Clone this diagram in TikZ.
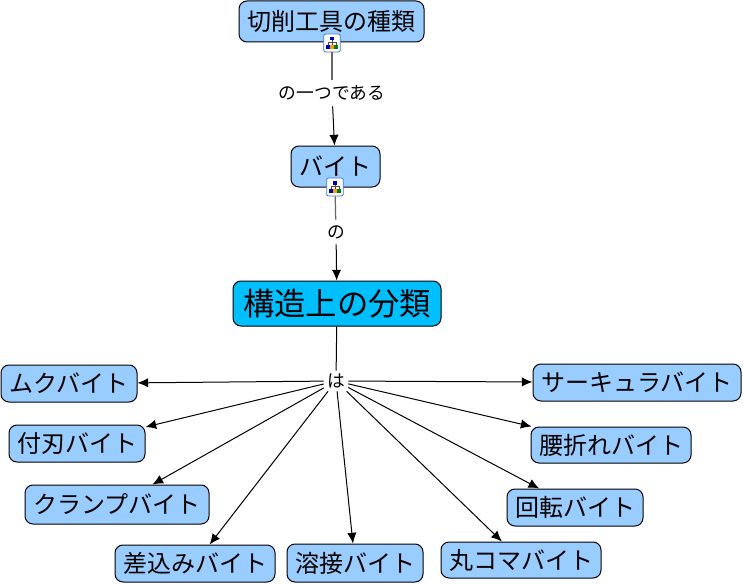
\documentclass[tikz,border=0pt]{standalone}
\usepackage{fontspec}
\setmainfont{Noto Sans CJK JP}
\usetikzlibrary{arrows.meta}
\tikzset{
  concept/.style={draw=black,line width=0.75pt,rounded corners=6pt,fill=conceptblue,inner sep=0pt,font=\fontsize{18}{18}\selectfont,text=black},
  rootconcept/.style={concept,fill=rootcyan,font=\fontsize{23.5}{24}\selectfont},
  linklabel/.style={inner sep=0pt,font=\fontsize{13.3}{13.3}\selectfont,text=black,fill=white},
  link/.style={draw=black,line width=0.75pt},
  iconlink/.style={draw=black!60,line width=0.9pt},
  arrowlink/.style={link,-{Latex[length=8pt,width=7pt]}},
  iconbox/.style={draw=iconblue,line width=0.6pt,rounded corners=1.5pt,fill=white,minimum width=12.5pt,minimum height=13.5pt,inner sep=0pt},
}
\definecolor{conceptblue}{HTML}{99CCFF}
\definecolor{rootcyan}{HTML}{00BFFF}
\definecolor{iconblue}{HTML}{3A78C8}
\newcommand{\hierarchyicon}[1]{%
  \begin{scope}[shift={(#1)}]
    \draw[black!70,line width=0.4pt] (0,-4) -- (0,3) (-4,3) -- (-4,-1) -- (4,-1) -- (4,3);
    \fill[blue!70!black] (-1.8,-6) rectangle (1.8,-2.5);
    \fill[blue!70!black] (-6,2) rectangle (-2.4,6);
    \fill[orange!80!yellow] (-1.7,2) rectangle (1.7,6);
    \fill[green!50!black] (2.4,2) rectangle (6,6);
  \end{scope}}
\begin{document}
\begin{tikzpicture}[x=0.75pt,y=-0.75pt]
\useasboundingbox (0,0) rectangle (743,585);
\fill[white] (0,0) rectangle (743,585);
\newcommand{\cnode}[7][concept]{\node[#1,minimum width=#6*0.75pt,minimum height=#7*0.75pt] (#2) at (#4,#5) {#3};}
\cnode{tool}{切削工具の種類}{331.5}{21.5}{185}{41}
\cnode{bite}{バイト}{335.5}{166.5}{89}{41}
\cnode[rootconcept]{struct}{構造上の分類}{337}{303.5}{208}{45}
\cnode{muku}{ムクバイト}{69}{383.5}{136}{37}
\cnode{hajin}{付刃バイト}{77}{443.5}{136}{37}
\cnode{clamp}{クランプバイト}{117}{504.5}{184}{39}
\cnode{sashi}{差込みバイト}{195}{563.5}{160}{37}
\cnode{yosetsu}{溶接バイト}{355}{563}{136}{38}
\cnode{maru}{丸コマバイト}{521}{560}{160}{36}
\cnode{kaiten}{回転バイト}{575}{507.5}{136}{37}
\cnode{koshi}{腰折れバイト}{611}{445}{160}{36}
\cnode{circ}{サーキュラバイト}{637}{382.5}{208}{37}
\node[linklabel,minimum width=110*0.75pt,minimum height=26*0.75pt] (l1) at (332,93) {の一つである};
\node[linklabel,minimum width=24*0.75pt,minimum height=24*0.75pt] (l2) at (336,232) {の};
\node[linklabel,minimum width=24*0.75pt,minimum height=20*0.75pt] (l3) at (336,381) {は};
\node[iconbox] (i1) at (332,43) {};
\node[iconbox] (i2) at (335,187) {};
\hierarchyicon{332,43}
\hierarchyicon{335,187}
\draw[iconlink] (i1) -- (l1);
\draw[arrowlink] (l1) -- (bite);
\draw[iconlink] (i2) -- (l2);
\draw[arrowlink] (l2) -- (struct);
\draw[link] (struct) -- (l3);
\foreach \t in {muku,hajin,clamp,sashi,yosetsu,maru,kaiten,koshi,circ}
  \draw[arrowlink] (l3) -- (\t);
\end{tikzpicture}
\end{document}
